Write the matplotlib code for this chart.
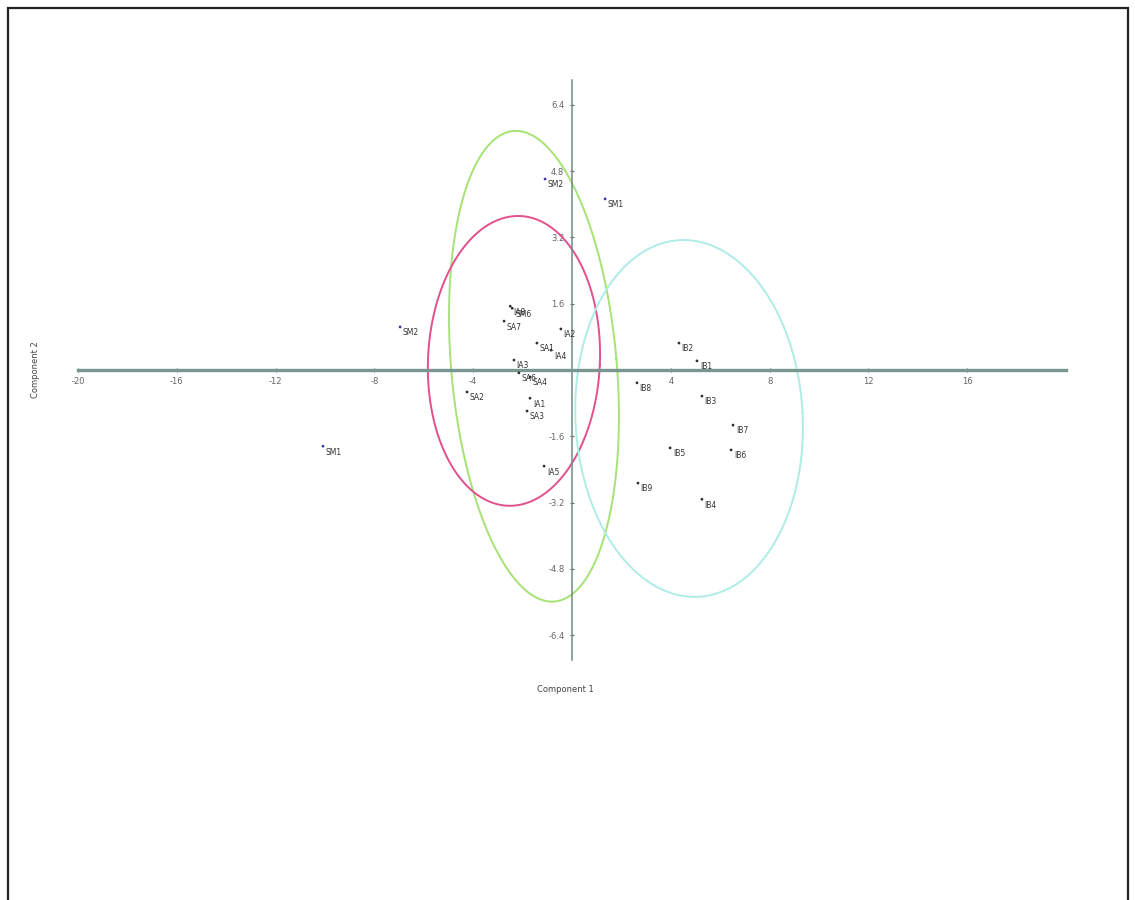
import numpy as np
import matplotlib
matplotlib.use("Agg")
import matplotlib.pyplot as plt
from matplotlib.patches import Rectangle

# PCA scores (Component 1, Component 2) and sample labels
labels = ["SM2", "SM1", "SM2", "SM1", "IA8", "SM6", "SA7", "IA2", "SA1", "IA4",
          "IA3", "SA6", "SA4", "SA2", "IA1", "SA3", "IA5",
          "IB2", "IB1", "IB8", "IB3", "IB7", "IB5", "IB6", "IB9", "IB4"]
comp1 = [-1.09, 1.34, -6.96, -10.08, -2.50, -2.42, -2.75, -0.45, -1.42, -0.85,
         -2.35, -2.15, -1.70, -4.25, -1.70, -1.82, -1.13,
         4.33, 5.06, 2.63, 5.26, 6.52, 3.97, 6.44, 2.67, 5.26]
comp2 = [4.61, 4.13, 1.04, -1.84, 1.54, 1.49, 1.18, 0.99, 0.65, 0.48,
         0.24, -0.07, -0.17, -0.53, -0.68, -0.99, -2.32,
         0.65, 0.22, -0.31, -0.63, -1.33, -1.88, -1.93, -2.73, -3.12]
marker_colors = ["#3a3aa0"] * 4 + ["#303030"] * 22

# Group ellipses: centre, semi-axes (data units), tilt (degrees on screen)
ell_cx = [-1.54, -2.35, 4.74]
ell_cy = [0.09, 0.22, -1.17]
ell_a = [3.35, 3.48, 4.60]
ell_b = [5.70, 3.50, 4.31]
ell_tilt = [5.0, -2.5, 3.0]
ell_colors = ["#a6e274", "#e2508e", "#aeece6"]

xticks = [-20, -16, -12, -8, -4, 4, 8, 12, 16]
yticks = [-6.4, -4.8, -3.2, -1.6, 1.6, 3.2, 4.8, 6.4]

W, H = 1135, 900
fig = plt.figure(figsize=(W / 100, H / 100), dpi=100)
fig.patch.set_facecolor("white")

# figure frame
fig.patches.append(Rectangle((8 / W, -0.05), (1128 - 8) / W, 1.05 - 8 / H,
                             transform=fig.transFigure, fill=False,
                             edgecolor="#222222", linewidth=1.6))

ax_l, ax_r, ax_t, ax_b = 78, 1066, 80, 660
ax = fig.add_axes([ax_l / W, 1 - ax_b / H, (ax_r - ax_l) / W, (ax_b - ax_t) / H])
ax.set_xlim(-20, 20)
ax.set_ylim(-7, 7)
ax.patch.set_alpha(0)

for s in ["top", "right"]:
    ax.spines[s].set_visible(False)
ax.spines["left"].set_position("zero")
ax.spines["bottom"].set_position("zero")
ax.spines["bottom"].set_color("#7a9690")
ax.spines["bottom"].set_linewidth(2.4)
ax.spines["left"].set_color("#6f8a84")
ax.spines["left"].set_linewidth(1.1)

ax.set_xticks(xticks)
ax.set_xticklabels([f"{v:d}" for v in xticks])
ax.set_yticks(yticks)
ax.set_yticklabels([f"{v:.1f}" for v in yticks])
ax.tick_params(axis="both", labelsize=6, colors="#666666", length=3, width=0.8,
               direction="inout")
ax.tick_params(axis="y", pad=4)

# ellipses drawn in screen-isotropic space so the tilt looks right
kx = (ax_r - ax_l) / 40.0
ky = (ax_b - ax_t) / 14.0
t = np.linspace(0, 2 * np.pi, 400)
for cx, cy, a, b, tilt, col in zip(ell_cx, ell_cy, ell_a, ell_b, ell_tilt, ell_colors):
    th = np.deg2rad(tilt)
    U = a * np.cos(t) * kx
    V = b * np.sin(t) * ky
    Ur = U * np.cos(th) - V * np.sin(th)
    Vr = U * np.sin(th) + V * np.cos(th)
    ax.plot(cx + Ur / kx, cy + Vr / ky, color=col, lw=1.4, zorder=2)

ax.scatter(comp1, comp2, s=4, c=marker_colors, zorder=3, linewidths=0)
for x, y, lab in zip(comp1, comp2, labels):
    ax.annotate(lab, (x, y), xytext=(2, -1), textcoords="offset points",
                fontsize=5.5, color="#333333", ha="left", va="top", zorder=4)

fig.text(565 / W, 1 - 690 / H, "Component 1", fontsize=6, color="#444444",
         ha="center", va="center")
fig.text(35 / W, 1 - 370 / H, "Component 2", fontsize=6, color="#444444",
         ha="center", va="center", rotation=90)

fig.savefig("out.png", dpi=100)
